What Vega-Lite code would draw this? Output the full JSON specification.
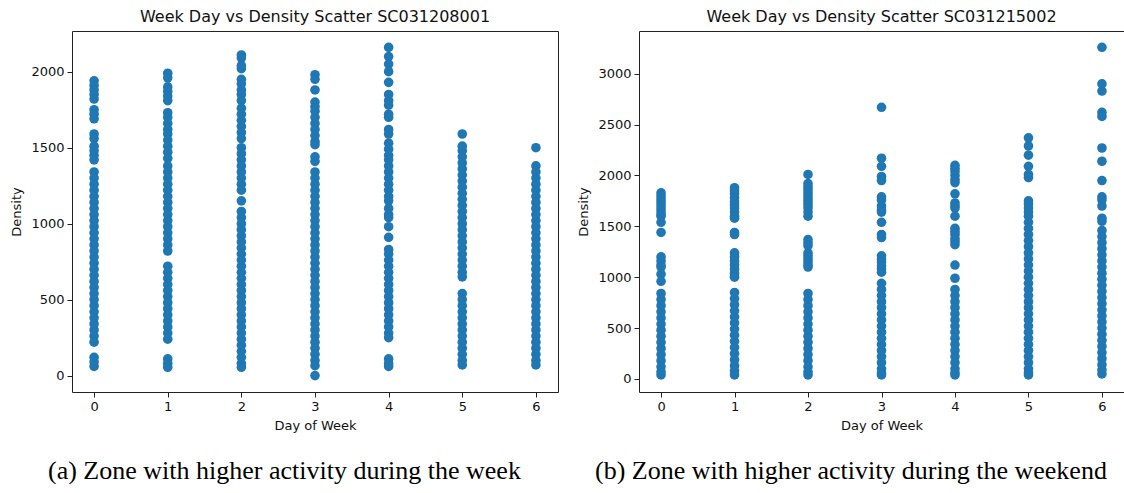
{
  "$schema": "https://vega.github.io/schema/vega-lite/v6.json",
  "background": "white",
  "padding": {"left": 10, "top": 8, "right": 0, "bottom": 0},
  "spacing": 18,
  "config": {
    "font": "DejaVu Sans",
    "view": {"stroke": "#222222", "strokeWidth": 1},
    "axis": {
      "grid": false,
      "domain": false,
      "tickColor": "#222222",
      "tickSize": 5,
      "labelFont": "DejaVu Sans",
      "labelFontSize": 13,
      "labelColor": "#111111",
      "labelPadding": 3,
      "titleFont": "DejaVu Sans",
      "titleFontSize": 13,
      "titleFontWeight": "normal",
      "titleColor": "#111111"
    },
    "axisX": {"titlePadding": 6},
    "axisY": {"titlePadding": 7},
    "title": {"font": "DejaVu Sans", "fontSize": 16, "fontWeight": "normal", "color": "#111111"}
  },
  "datasets": {
    "a": [
      {"day":0,"density":1940},{"day":0,"density":1910},{"day":0,"density":1880},{"day":0,"density":1850},{"day":0,"density":1820},{"day":0,"density":1750},{"day":0,"density":1720},{"day":0,"density":1690},{"day":0,"density":1590},{"day":0,"density":1560},{"day":0,"density":1510},{"day":0,"density":1480},{"day":0,"density":1450},{"day":0,"density":1420},{"day":0,"density":1340},{"day":0,"density":1300},{"day":0,"density":1260},{"day":0,"density":1220},{"day":0,"density":1180},{"day":0,"density":1140},{"day":0,"density":1100},{"day":0,"density":1060},{"day":0,"density":1020},{"day":0,"density":980},{"day":0,"density":940},{"day":0,"density":900},{"day":0,"density":860},{"day":0,"density":820},{"day":0,"density":780},{"day":0,"density":740},{"day":0,"density":700},{"day":0,"density":660},{"day":0,"density":620},{"day":0,"density":580},{"day":0,"density":540},{"day":0,"density":500},{"day":0,"density":460},{"day":0,"density":420},{"day":0,"density":380},{"day":0,"density":340},{"day":0,"density":300},{"day":0,"density":260},{"day":0,"density":220},{"day":0,"density":120},{"day":0,"density":90},{"day":0,"density":60},
      {"day":1,"density":1990},{"day":1,"density":1960},{"day":1,"density":1900},{"day":1,"density":1870},{"day":1,"density":1840},{"day":1,"density":1810},{"day":1,"density":1730},{"day":1,"density":1700},{"day":1,"density":1660},{"day":1,"density":1620},{"day":1,"density":1590},{"day":1,"density":1550},{"day":1,"density":1510},{"day":1,"density":1470},{"day":1,"density":1430},{"day":1,"density":1380},{"day":1,"density":1340},{"day":1,"density":1300},{"day":1,"density":1260},{"day":1,"density":1220},{"day":1,"density":1180},{"day":1,"density":1140},{"day":1,"density":1100},{"day":1,"density":1060},{"day":1,"density":1020},{"day":1,"density":980},{"day":1,"density":940},{"day":1,"density":900},{"day":1,"density":860},{"day":1,"density":820},{"day":1,"density":720},{"day":1,"density":680},{"day":1,"density":640},{"day":1,"density":600},{"day":1,"density":560},{"day":1,"density":520},{"day":1,"density":480},{"day":1,"density":440},{"day":1,"density":400},{"day":1,"density":360},{"day":1,"density":320},{"day":1,"density":280},{"day":1,"density":240},{"day":1,"density":110},{"day":1,"density":80},{"day":1,"density":55},
      {"day":2,"density":2110},{"day":2,"density":2090},{"day":2,"density":2040},{"day":2,"density":2020},{"day":2,"density":1950},{"day":2,"density":1920},{"day":2,"density":1880},{"day":2,"density":1850},{"day":2,"density":1810},{"day":2,"density":1760},{"day":2,"density":1720},{"day":2,"density":1680},{"day":2,"density":1640},{"day":2,"density":1600},{"day":2,"density":1560},{"day":2,"density":1500},{"day":2,"density":1460},{"day":2,"density":1420},{"day":2,"density":1380},{"day":2,"density":1340},{"day":2,"density":1300},{"day":2,"density":1260},{"day":2,"density":1220},{"day":2,"density":1150},{"day":2,"density":1080},{"day":2,"density":1040},{"day":2,"density":1000},{"day":2,"density":960},{"day":2,"density":920},{"day":2,"density":880},{"day":2,"density":840},{"day":2,"density":800},{"day":2,"density":760},{"day":2,"density":720},{"day":2,"density":680},{"day":2,"density":640},{"day":2,"density":600},{"day":2,"density":560},{"day":2,"density":520},{"day":2,"density":480},{"day":2,"density":440},{"day":2,"density":400},{"day":2,"density":360},{"day":2,"density":320},{"day":2,"density":280},{"day":2,"density":240},{"day":2,"density":200},{"day":2,"density":160},{"day":2,"density":120},{"day":2,"density":80},{"day":2,"density":55},
      {"day":3,"density":1980},{"day":3,"density":1950},{"day":3,"density":1880},{"day":3,"density":1800},{"day":3,"density":1770},{"day":3,"density":1740},{"day":3,"density":1700},{"day":3,"density":1660},{"day":3,"density":1620},{"day":3,"density":1580},{"day":3,"density":1540},{"day":3,"density":1520},{"day":3,"density":1440},{"day":3,"density":1410},{"day":3,"density":1340},{"day":3,"density":1300},{"day":3,"density":1260},{"day":3,"density":1220},{"day":3,"density":1180},{"day":3,"density":1140},{"day":3,"density":1100},{"day":3,"density":1060},{"day":3,"density":1020},{"day":3,"density":980},{"day":3,"density":940},{"day":3,"density":900},{"day":3,"density":860},{"day":3,"density":820},{"day":3,"density":780},{"day":3,"density":740},{"day":3,"density":700},{"day":3,"density":660},{"day":3,"density":620},{"day":3,"density":580},{"day":3,"density":540},{"day":3,"density":500},{"day":3,"density":460},{"day":3,"density":420},{"day":3,"density":380},{"day":3,"density":340},{"day":3,"density":300},{"day":3,"density":260},{"day":3,"density":220},{"day":3,"density":180},{"day":3,"density":140},{"day":3,"density":100},{"day":3,"density":65},{"day":3,"density":0},
      {"day":4,"density":2160},{"day":4,"density":2100},{"day":4,"density":2050},{"day":4,"density":2000},{"day":4,"density":1930},{"day":4,"density":1850},{"day":4,"density":1810},{"day":4,"density":1780},{"day":4,"density":1720},{"day":4,"density":1700},{"day":4,"density":1620},{"day":4,"density":1590},{"day":4,"density":1530},{"day":4,"density":1490},{"day":4,"density":1450},{"day":4,"density":1420},{"day":4,"density":1380},{"day":4,"density":1340},{"day":4,"density":1300},{"day":4,"density":1260},{"day":4,"density":1220},{"day":4,"density":1180},{"day":4,"density":1150},{"day":4,"density":1100},{"day":4,"density":1060},{"day":4,"density":1040},{"day":4,"density":980},{"day":4,"density":910},{"day":4,"density":830},{"day":4,"density":800},{"day":4,"density":760},{"day":4,"density":720},{"day":4,"density":680},{"day":4,"density":640},{"day":4,"density":600},{"day":4,"density":560},{"day":4,"density":520},{"day":4,"density":480},{"day":4,"density":440},{"day":4,"density":400},{"day":4,"density":360},{"day":4,"density":320},{"day":4,"density":280},{"day":4,"density":250},{"day":4,"density":110},{"day":4,"density":80},{"day":4,"density":60},
      {"day":5,"density":1590},{"day":5,"density":1510},{"day":5,"density":1480},{"day":5,"density":1440},{"day":5,"density":1400},{"day":5,"density":1360},{"day":5,"density":1320},{"day":5,"density":1280},{"day":5,"density":1240},{"day":5,"density":1200},{"day":5,"density":1160},{"day":5,"density":1120},{"day":5,"density":1080},{"day":5,"density":1040},{"day":5,"density":1000},{"day":5,"density":960},{"day":5,"density":920},{"day":5,"density":880},{"day":5,"density":840},{"day":5,"density":800},{"day":5,"density":760},{"day":5,"density":720},{"day":5,"density":680},{"day":5,"density":650},{"day":5,"density":540},{"day":5,"density":500},{"day":5,"density":460},{"day":5,"density":420},{"day":5,"density":380},{"day":5,"density":340},{"day":5,"density":300},{"day":5,"density":260},{"day":5,"density":220},{"day":5,"density":180},{"day":5,"density":140},{"day":5,"density":100},{"day":5,"density":70},
      {"day":6,"density":1500},{"day":6,"density":1380},{"day":6,"density":1340},{"day":6,"density":1300},{"day":6,"density":1260},{"day":6,"density":1220},{"day":6,"density":1180},{"day":6,"density":1140},{"day":6,"density":1100},{"day":6,"density":1060},{"day":6,"density":1020},{"day":6,"density":980},{"day":6,"density":940},{"day":6,"density":900},{"day":6,"density":860},{"day":6,"density":820},{"day":6,"density":780},{"day":6,"density":740},{"day":6,"density":700},{"day":6,"density":660},{"day":6,"density":620},{"day":6,"density":580},{"day":6,"density":540},{"day":6,"density":500},{"day":6,"density":460},{"day":6,"density":420},{"day":6,"density":380},{"day":6,"density":340},{"day":6,"density":300},{"day":6,"density":260},{"day":6,"density":220},{"day":6,"density":180},{"day":6,"density":140},{"day":6,"density":100},{"day":6,"density":70}
    ],
    "b": [
      {"day":0,"density":1830},{"day":0,"density":1800},{"day":0,"density":1770},{"day":0,"density":1740},{"day":0,"density":1710},{"day":0,"density":1680},{"day":0,"density":1650},{"day":0,"density":1620},{"day":0,"density":1600},{"day":0,"density":1540},{"day":0,"density":1440},{"day":0,"density":1200},{"day":0,"density":1160},{"day":0,"density":1120},{"day":0,"density":1100},{"day":0,"density":1030},{"day":0,"density":960},{"day":0,"density":840},{"day":0,"density":780},{"day":0,"density":720},{"day":0,"density":660},{"day":0,"density":600},{"day":0,"density":540},{"day":0,"density":480},{"day":0,"density":420},{"day":0,"density":360},{"day":0,"density":300},{"day":0,"density":240},{"day":0,"density":180},{"day":0,"density":120},{"day":0,"density":70},{"day":0,"density":40},
      {"day":1,"density":1880},{"day":1,"density":1850},{"day":1,"density":1820},{"day":1,"density":1780},{"day":1,"density":1740},{"day":1,"density":1710},{"day":1,"density":1680},{"day":1,"density":1640},{"day":1,"density":1600},{"day":1,"density":1580},{"day":1,"density":1440},{"day":1,"density":1420},{"day":1,"density":1240},{"day":1,"density":1200},{"day":1,"density":1160},{"day":1,"density":1120},{"day":1,"density":1080},{"day":1,"density":1040},{"day":1,"density":1000},{"day":1,"density":850},{"day":1,"density":790},{"day":1,"density":730},{"day":1,"density":670},{"day":1,"density":610},{"day":1,"density":550},{"day":1,"density":490},{"day":1,"density":430},{"day":1,"density":370},{"day":1,"density":310},{"day":1,"density":250},{"day":1,"density":190},{"day":1,"density":130},{"day":1,"density":80},{"day":1,"density":40},
      {"day":2,"density":2010},{"day":2,"density":1920},{"day":2,"density":1890},{"day":2,"density":1860},{"day":2,"density":1830},{"day":2,"density":1800},{"day":2,"density":1770},{"day":2,"density":1740},{"day":2,"density":1710},{"day":2,"density":1680},{"day":2,"density":1640},{"day":2,"density":1600},{"day":2,"density":1370},{"day":2,"density":1340},{"day":2,"density":1310},{"day":2,"density":1240},{"day":2,"density":1210},{"day":2,"density":1180},{"day":2,"density":1150},{"day":2,"density":1120},{"day":2,"density":1100},{"day":2,"density":840},{"day":2,"density":780},{"day":2,"density":720},{"day":2,"density":660},{"day":2,"density":600},{"day":2,"density":540},{"day":2,"density":480},{"day":2,"density":420},{"day":2,"density":360},{"day":2,"density":300},{"day":2,"density":240},{"day":2,"density":180},{"day":2,"density":120},{"day":2,"density":70},{"day":2,"density":40},
      {"day":3,"density":2670},{"day":3,"density":2170},{"day":3,"density":2090},{"day":3,"density":1990},{"day":3,"density":1950},{"day":3,"density":1790},{"day":3,"density":1760},{"day":3,"density":1700},{"day":3,"density":1660},{"day":3,"density":1640},{"day":3,"density":1540},{"day":3,"density":1420},{"day":3,"density":1390},{"day":3,"density":1210},{"day":3,"density":1180},{"day":3,"density":1150},{"day":3,"density":1110},{"day":3,"density":1080},{"day":3,"density":1050},{"day":3,"density":940},{"day":3,"density":880},{"day":3,"density":820},{"day":3,"density":760},{"day":3,"density":700},{"day":3,"density":640},{"day":3,"density":580},{"day":3,"density":520},{"day":3,"density":460},{"day":3,"density":400},{"day":3,"density":340},{"day":3,"density":280},{"day":3,"density":220},{"day":3,"density":160},{"day":3,"density":100},{"day":3,"density":60},{"day":3,"density":40},
      {"day":4,"density":2100},{"day":4,"density":2070},{"day":4,"density":2040},{"day":4,"density":2000},{"day":4,"density":1960},{"day":4,"density":1930},{"day":4,"density":1820},{"day":4,"density":1730},{"day":4,"density":1700},{"day":4,"density":1680},{"day":4,"density":1600},{"day":4,"density":1480},{"day":4,"density":1450},{"day":4,"density":1420},{"day":4,"density":1380},{"day":4,"density":1350},{"day":4,"density":1320},{"day":4,"density":1120},{"day":4,"density":990},{"day":4,"density":880},{"day":4,"density":820},{"day":4,"density":760},{"day":4,"density":700},{"day":4,"density":640},{"day":4,"density":580},{"day":4,"density":520},{"day":4,"density":460},{"day":4,"density":400},{"day":4,"density":340},{"day":4,"density":280},{"day":4,"density":220},{"day":4,"density":160},{"day":4,"density":100},{"day":4,"density":60},{"day":4,"density":40},
      {"day":5,"density":2370},{"day":5,"density":2290},{"day":5,"density":2200},{"day":5,"density":2090},{"day":5,"density":2010},{"day":5,"density":1980},{"day":5,"density":1750},{"day":5,"density":1720},{"day":5,"density":1680},{"day":5,"density":1640},{"day":5,"density":1600},{"day":5,"density":1540},{"day":5,"density":1480},{"day":5,"density":1420},{"day":5,"density":1360},{"day":5,"density":1300},{"day":5,"density":1240},{"day":5,"density":1180},{"day":5,"density":1120},{"day":5,"density":1060},{"day":5,"density":1000},{"day":5,"density":940},{"day":5,"density":880},{"day":5,"density":820},{"day":5,"density":760},{"day":5,"density":700},{"day":5,"density":640},{"day":5,"density":580},{"day":5,"density":520},{"day":5,"density":460},{"day":5,"density":400},{"day":5,"density":340},{"day":5,"density":280},{"day":5,"density":220},{"day":5,"density":160},{"day":5,"density":100},{"day":5,"density":60},{"day":5,"density":40},
      {"day":6,"density":3260},{"day":6,"density":2900},{"day":6,"density":2830},{"day":6,"density":2620},{"day":6,"density":2580},{"day":6,"density":2270},{"day":6,"density":2140},{"day":6,"density":1950},{"day":6,"density":1790},{"day":6,"density":1760},{"day":6,"density":1700},{"day":6,"density":1580},{"day":6,"density":1550},{"day":6,"density":1460},{"day":6,"density":1400},{"day":6,"density":1340},{"day":6,"density":1280},{"day":6,"density":1220},{"day":6,"density":1160},{"day":6,"density":1100},{"day":6,"density":1040},{"day":6,"density":980},{"day":6,"density":920},{"day":6,"density":860},{"day":6,"density":800},{"day":6,"density":740},{"day":6,"density":680},{"day":6,"density":620},{"day":6,"density":560},{"day":6,"density":500},{"day":6,"density":440},{"day":6,"density":380},{"day":6,"density":320},{"day":6,"density":260},{"day":6,"density":200},{"day":6,"density":140},{"day":6,"density":90},{"day":6,"density":50}
    ]
  },
  "hconcat": [
    {
      "title": {"text": "(a) Zone with higher activity during the week", "orient": "bottom", "anchor": "middle", "font": "Liberation Serif", "fontSize": 26, "fontWeight": "normal", "color": "#000000", "offset": 25},
      "vconcat": [
        {
          "data": {"name": "a"},
          "title": {"text": "Week Day vs Density Scatter SC031208001", "frame": "group", "offset": 6},
          "width": 486,
          "height": 361,
          "mark": {"type": "circle", "size": 92, "opacity": 1, "color": "#1f77b4"},
          "encoding": {
            "x": {"field": "day", "type": "quantitative", "title": "Day of Week", "scale": {"domain": [-0.3, 6.3], "nice": false, "zero": false}, "axis": {"values": [0, 1, 2, 3, 4, 5, 6], "format": "d"}},
            "y": {"field": "density", "type": "quantitative", "title": "Density", "scale": {"domain": [-108, 2268], "nice": false, "zero": false}, "axis": {"values": [0, 500, 1000, 1500, 2000], "format": "d"}}
          }
        }
      ]
    },
    {
      "title": {"text": "(b) Zone with higher activity during the weekend", "orient": "bottom", "anchor": "middle", "font": "Liberation Serif", "fontSize": 26, "fontWeight": "normal", "color": "#000000", "offset": 25},
      "vconcat": [
        {
          "data": {"name": "b"},
          "title": {"text": "Week Day vs Density Scatter SC031215002", "frame": "group", "offset": 6},
          "width": 485,
          "height": 361,
          "mark": {"type": "circle", "size": 92, "opacity": 1, "color": "#1f77b4"},
          "encoding": {
            "x": {"field": "day", "type": "quantitative", "title": "Day of Week", "scale": {"domain": [-0.3, 6.3], "nice": false, "zero": false}, "axis": {"values": [0, 1, 2, 3, 4, 5, 6], "format": "d"}},
            "y": {"field": "density", "type": "quantitative", "title": "Density", "scale": {"domain": [-128, 3420], "nice": false, "zero": false}, "axis": {"values": [0, 500, 1000, 1500, 2000, 2500, 3000], "format": "d"}}
          }
        }
      ]
    }
  ]
}
